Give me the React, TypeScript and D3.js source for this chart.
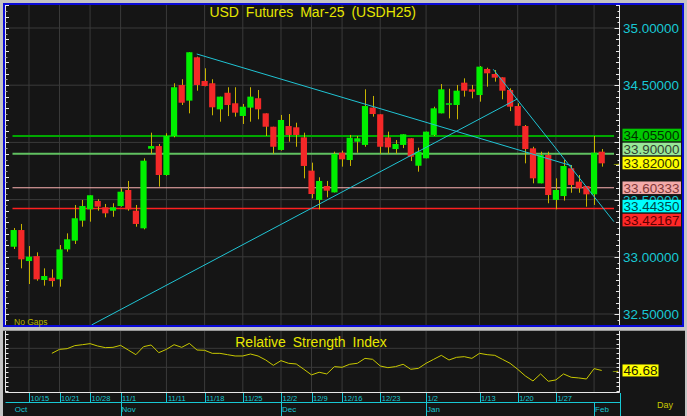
import React from 'react';
import * as d3 from 'd3';

const opens = [33.088,33.234,32.963,33.006,32.797,32.817,32.803,33.065,33.141,33.316,33.415,33.488,33.433,33.403,33.444,33.584,33.403,33.249,33.945,33.968,33.715,34.056,34.502,34.365,34.744,34.537,34.517,34.289,34.434,34.342,34.231,34.304,34.386,34.254,34.137,33.934,34.143,34.132,34.044,33.753,33.497,33.619,33.563,33.910,33.846,34.006,33.978,34.304,34.246,34.044,33.942,33.978,34.036,33.796,33.861,34.065,34.254,34.330,34.327,34.522,34.464,34.414,34.642,34.598,34.569,34.458,34.318,34.143,33.948,33.642,33.890,33.497,33.531,33.774,33.657,33.619,33.546,33.919];
const highs = [33.252,33.287,33.094,33.039,32.899,32.890,33.103,33.205,33.453,33.497,33.538,33.503,33.462,33.468,33.599,33.663,33.453,33.861,34.085,33.986,34.080,34.517,34.552,34.788,34.750,34.648,34.552,34.400,34.482,34.482,34.336,34.482,34.458,34.254,34.137,34.240,34.248,34.172,34.085,33.823,33.695,33.663,33.919,33.928,34.065,34.056,34.464,34.406,34.246,34.094,34.021,34.071,34.036,33.954,34.094,34.312,34.510,34.469,34.502,34.560,34.502,34.668,34.653,34.633,34.569,34.473,34.342,34.152,33.962,33.919,33.919,33.686,33.846,33.802,33.715,33.619,34.056,33.942];
const lows = [33.068,32.899,32.762,32.791,32.748,32.739,32.739,33.045,33.112,33.263,33.307,33.403,33.345,33.350,33.438,33.403,33.263,33.240,33.900,33.613,33.708,34.044,34.327,34.254,34.452,34.490,34.237,34.181,34.230,34.225,34.161,34.181,34.202,34.056,33.900,33.928,34.006,33.962,33.686,33.511,33.415,33.520,33.563,33.788,33.794,33.910,33.962,34.225,33.900,33.900,33.900,33.950,33.837,33.744,33.861,34.056,34.254,34.210,34.202,34.400,34.385,34.356,34.487,34.531,34.377,34.274,34.146,33.817,33.642,33.642,33.468,33.415,33.491,33.560,33.560,33.438,33.453,33.788];
const closes = [33.234,32.978,33.001,32.803,32.832,32.788,33.065,33.153,33.337,33.444,33.538,33.438,33.380,33.433,33.569,33.415,33.287,33.840,33.968,33.715,34.056,34.482,34.347,34.788,34.502,34.493,34.307,34.400,34.327,34.260,34.312,34.400,34.289,34.137,33.962,34.196,34.065,34.065,33.794,33.549,33.663,33.578,33.899,33.852,34.041,34.036,34.318,34.248,33.962,33.957,33.986,34.071,33.875,33.919,34.094,34.298,34.464,34.342,34.452,34.452,34.443,34.662,34.604,34.566,34.452,34.312,34.146,33.942,33.686,33.890,33.540,33.584,33.794,33.628,33.599,33.546,33.910,33.817];

const rsiStart = 5;
const rsiValues = [64.7,68.9,69.6,72.8,73.8,74.9,72.4,70.7,71.0,73.1,68.2,63.3,71.7,73.5,65.4,68.9,73.8,71.0,75.2,68.2,67.9,64.7,64.7,63.3,61.9,61.9,64.0,61.9,57.7,52.1,57.0,54.2,53.5,47.9,42.0,44.8,43.0,50.7,50.0,53.2,54.2,59.4,58.4,51.4,49.6,50.7,53.2,47.9,48.9,54.2,58.4,62.6,57.7,60.5,61.2,59.4,64.7,63.3,62.6,58.4,54.2,47.9,40.9,35.6,43.0,35.3,36.7,43.0,39.5,38.8,37.7,48.6,46.68];

const weekLabels = ['10/15','10/21','10/28','11/1','11/11','11/18','11/25','12/2','12/9','12/16','12/23','1/2','1/13','1/20','1/27'];
const weekIdx = [2,6,10,14,20,25,30,35,39,43,48,54,61,66,71];
const monthLabels = ['Oct','Nov','Dec','Jan','Feb'];
const monthIdx = [0,14,35,54,76];

const priceTicks = [35, 34.5, 34, 33.5, 33, 32.5];
const priceLabelTicks = [35, 34.5, 33.5, 33, 32.5];
const levelValues = [34.055, 33.9, 33.82, 33.60333, 33.4435, 33.42167];
const levelTexts = ['34.05500','33.90000','33.82000','33.60333','33.44350','33.42167'];
const anchorLevel = 2;

// trend lines: [startIndex, startPrice, endIndex, endPrice]
const trendLines = [
  [23.97, 34.773, 73.07, 33.796],
  [10.2, 32.404, 65.95, 34.38],
  [62.8, 34.639, 78.6, 33.307],
];

const rsiLast = 46.68;

const levelStyles = [
  { line: '#00a800', lw: 2, bg: '#00c800', fg: '#003000' },
  { line: '#60c060', lw: 2, bg: '#98e898', fg: '#304030' },
  { line: null, lw: 0, bg: '#ffff00', fg: '#303000' },
  { line: '#ffb4b4', lw: 1, bg: '#f4aaaa', fg: '#803838' },
  { line: null, lw: 0, bg: '#00ffff', fg: '#004848' },
  { line: '#ff2020', lw: 1.5, bg: '#ff2828', fg: '#600000' },
];

const FONT = '"Liberation Sans", Arial, sans-serif';

export default function App() {
  const x = d3.scaleLinear().domain([0, 77]).range([13.7, 601.7]);
  const y = d3.scaleLinear().domain([32.5, 35]).range([314, 28]);
  const yR = d3.scaleLinear().domain([50, 70]).range([367.3, 348.3]);

  const plotL = 5.5, plotR = 619.5, plotT = 5, plotB = 325;
  const bodyW = 6.2;

  const minorTicks = d3.range(32.45, 35.26, 0.05).map(v => Math.round(v * 100) / 100);

  const nat = levelValues.map(v => y(v));
  const pos = nat.slice();
  for (let i = anchorLevel - 1; i >= 0; i--) pos[i] = Math.min(nat[i], pos[i + 1] - 14);
  for (let i = anchorLevel + 1; i < nat.length; i++) pos[i] = Math.max(nat[i], pos[i - 1] + 14);

  const rsiLine = d3.line<number>().x((_, i) => x(i + rsiStart)).y(d => yR(d));
  const rsiTicks = d3.range(25, 90, 5).filter(v => yR(v) > 331 && yR(v) < 392);
  const gridIdx = [...weekIdx, 76];

  return (
    <div style={{ position: 'fixed', left: 0, top: 0 }}>
      <svg width={687} height={416} style={{ display: 'block', fontFamily: FONT }}>
        <defs>
          <clipPath id="plotclip">
            <rect x={plotL} y={plotT} width={plotR - plotL} height={plotB - plotT} />
          </clipPath>
        </defs>
        <rect x={0} y={0} width={687} height={416} fill="#c4c4c4" />
        <rect x={4} y={4} width={679} height={322} fill="#151515" stroke="#0a0ad8" strokeWidth={2} />
        <rect x={3} y={330.5} width={682} height={86} fill="#151515" />

        {gridIdx.map((k, i) => (
          <line key={'vg' + i} x1={x(k)} x2={x(k)} y1={plotT} y2={plotB} stroke="#3a3a3a" strokeWidth={1} />
        ))}
        {priceTicks.map((p, i) => (
          <line key={'hg' + i} x1={plotL} x2={plotR} y1={y(p)} y2={y(p)} stroke="#3a3a3a" strokeWidth={1} />
        ))}

        {levelValues.map((v, i) => levelStyles[i].line ? (
          <line key={'lv' + i} x1={12.5} x2={614} y1={y(v)} y2={y(v)} stroke={levelStyles[i].line!} strokeWidth={levelStyles[i].lw} />
        ) : null)}

        <g>
          {opens.map((o, k) => {
            const c = closes[k];
            const up = c >= o;
            const top = y(Math.max(o, c));
            const bot = y(Math.min(o, c));
            return (
              <g key={'c' + k}>
                <line x1={Math.round(x(k)) + 0.5} x2={Math.round(x(k)) + 0.5} y1={y(highs[k])} y2={y(lows[k])} stroke="#c8b400" strokeWidth={1} />
                <rect x={x(k) - bodyW / 2} y={top} width={bodyW} height={Math.max(1.5, bot - top)} fill={up ? '#00f000' : '#f42828'} />
              </g>
            );
          })}
        </g>

        <g clipPath="url(#plotclip)">
          {trendLines.map((t, i) => (
            <line key={'tl' + i} x1={x(t[0])} y1={y(t[1])} x2={x(t[2])} y2={y(t[3])} stroke="#20c4d4" strokeWidth={1} />
          ))}
        </g>

        <line x1={plotL} x2={plotL} y1={plotT} y2={plotB} stroke="#e8e8e8" strokeWidth={1} />
        {minorTicks.filter(v => y(v) >= plotT && y(v) <= plotB).map((v, i) => {
          const major = Math.abs(Math.round(v * 10) - v * 10) < 0.01;
          return <line key={'lt' + i} x1={plotL} x2={plotL + (major ? 3.5 : 2)} y1={Math.round(y(v)) + 0.5} y2={Math.round(y(v)) + 0.5} stroke={major ? '#e8e8e8' : '#a0a0a0'} strokeWidth={1} />;
        })}
        <line x1={plotR} x2={plotR} y1={plotT} y2={plotB} stroke="#e8e8e8" strokeWidth={1} />
        {minorTicks.filter(v => y(v) >= plotT && y(v) <= plotB).map((v, i) => {
          const big = Math.abs(Math.round(v * 2) - v * 2) < 0.01;
          const major = Math.abs(Math.round(v * 10) - v * 10) < 0.01;
          return <line key={'rt' + i} x1={plotR} x2={plotR - (big ? 5 : major ? 3.5 : 2)} y1={Math.round(y(v)) + 0.5} y2={Math.round(y(v)) + 0.5} stroke="#e8e8e8" strokeWidth={1} />;
        })}
        {priceLabelTicks.map((p, i) => (
          <text key={'pl' + i} x={623} y={y(p) + 5} fontSize={13.5} textLength={56} lengthAdjust="spacingAndGlyphs" fill="#18c8d4">{p.toFixed(5)}</text>
        ))}

        {levelValues.map((v, i) => (
          <g key={'lb' + i}>
            <rect x={622.5} y={pos[i] - 6.3} width={58.5} height={12.6} fill={levelStyles[i].bg} />
            <text x={623.5} y={pos[i] + 5} fontSize={13.5} textLength={56} lengthAdjust="spacingAndGlyphs" fill={levelStyles[i].fg}>{levelTexts[i]}</text>
          </g>
        ))}
        <text x={612} y={y(closes[closes.length - 1]) + 3} fontSize={9} fill="#e0e000">→</text>

        <text x={312.7} y={16.5} fontSize={14} fill="#e6e600" textAnchor="middle" wordSpacing={3}>USD Futures Mar-25 (USDH25)</text>
        <text x={14} y={325} fontSize={8.5} fill="#b4b400">No Gaps</text>

        <rect x={0} y={327} width={687} height={3.5} fill="#c4c4c4" />

        {gridIdx.map((k, i) => (
          <line key={'rvg' + i} x1={x(k)} x2={x(k)} y1={331} y2={392.5} stroke="#3a3a3a" strokeWidth={1} />
        ))}
        {[50, 70].map((v, i) => (
          <line key={'rhg' + i} x1={plotL} x2={plotR} y1={yR(v)} y2={yR(v)} stroke="#3a3a3a" strokeWidth={1} />
        ))}
        <path d={rsiLine(rsiValues) || ''} fill="none" stroke="#c8c800" strokeWidth={1} />
        <line x1={plotL} x2={plotL} y1={331} y2={392.5} stroke="#e8e8e8" strokeWidth={1} />
        <line x1={plotR} x2={plotR} y1={331} y2={392.5} stroke="#e8e8e8" strokeWidth={1} />
        {rsiTicks.map((v, i) => (
          <g key={'rtk' + i}>
            <line x1={plotL} x2={plotL + 3} y1={Math.round(yR(v)) + 0.5} y2={Math.round(yR(v)) + 0.5} stroke="#e8e8e8" />
            <line x1={plotR} x2={plotR - 3} y1={Math.round(yR(v)) + 0.5} y2={Math.round(yR(v)) + 0.5} stroke="#e8e8e8" />
          </g>
        ))}
        <text x={311} y={346.5} fontSize={14} fill="#e6e600" textAnchor="middle" wordSpacing={3}>Relative Strength Index</text>
        <text x={611} y={yR(rsiLast) + 3} fontSize={9} fill="#e0e000">→</text>
        <rect x={622.5} y={yR(rsiLast) - 6} width={36} height={12} fill="#ffff00" />
        <text x={623.5} y={yR(rsiLast) + 5} fontSize={13.5} textLength={34} lengthAdjust="spacingAndGlyphs" fill="#202000">{rsiLast.toFixed(2)}</text>

        <line x1={plotL} x2={plotR} y1={392.5} y2={392.5} stroke="#e8e8e8" strokeWidth={1} />
        <line x1={plotL} x2={plotR + 1} y1={402.5} y2={402.5} stroke="#18c8d4" strokeWidth={1} />
        <line x1={620.5} x2={620.5} y1={393} y2={416} stroke="#18c8d4" strokeWidth={1} />
        {weekIdx.map((k, i) => (
          <g key={'wk' + i}>
            <line x1={Math.round(x(k)) + 0.5} x2={Math.round(x(k)) + 0.5} y1={393} y2={402.5} stroke="#18c8d4" />
            <text x={x(k) + 1.5} y={401.3} fontSize={7.5} fill="#18c8d4">{weekLabels[i]}</text>
          </g>
        ))}
        {monthIdx.map((k, i) => (
          <g key={'mo' + i}>
            {i > 0 ? <line x1={Math.round(x(k)) + 0.5} x2={Math.round(x(k)) + 0.5} y1={402.5} y2={416} stroke="#18c8d4" /> : null}
            <text x={x(k) + 1} y={411.5} fontSize={8} fill="#18c8d4">{monthLabels[i]}</text>
          </g>
        ))}
        <text x={657} y={407.5} fontSize={9} fill="#c8c800">Day</text>
      </svg>
    </div>
  );
}
